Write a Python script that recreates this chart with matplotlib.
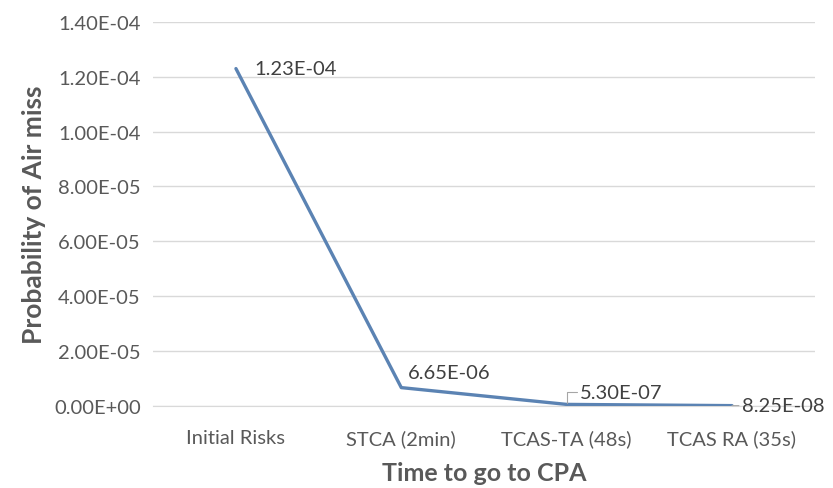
import matplotlib.pyplot as plt

# 데이터
categories = ["Initial Risks", "STCA (2min)", "TCAS-TA (48s)", "TCAS RA (35s)"]
prob = [1.23e-04, 6.65e-06, 5.30e-07, 8.25e-08]
labels = ["1.23E-04", "6.65E-06", "5.30E-07", "8.25E-08"]
yticks = [0, 2e-05, 4e-05, 6e-05, 8e-05, 1e-04, 1.2e-04, 1.4e-04]
ytick_labels = ["0.00E+00", "2.00E-05", "4.00E-05", "6.00E-05",
                "8.00E-05", "1.00E-04", "1.20E-04", "1.40E-04"]

plt.rc("font", family=["Lato", "DejaVu Sans"])
txt = "#595959"
fs = 14.5

fig = plt.figure(figsize=(8.33, 4.89), dpi=100)
ax = fig.add_axes([0.184, 0.168, 0.794, 0.785])

x = list(range(len(categories)))
ax.plot(x, prob, color="#5B83B3", lw=2.4, solid_capstyle="round", zorder=3)

ax.set_xlim(-0.5, len(categories) - 0.5)
ax.set_ylim(0, 1.4e-04)
ax.set_yticks(yticks)
ax.set_yticklabels(ytick_labels)
ax.set_xticks(x)
ax.set_xticklabels(categories)
ax.tick_params(length=0, labelsize=fs, colors=txt)
ax.tick_params(axis="y", pad=9)
ax.tick_params(axis="x", pad=17)
ax.grid(axis="y", color="#D9D9D9", lw=1)
ax.set_axisbelow(True)
for s in ["top", "right", "left"]:
    ax.spines[s].set_visible(False)
ax.spines["bottom"].set_color("#D9D9D9")

ax.set_ylabel("Probability of Air miss", fontsize=19, fontweight="bold", color=txt, labelpad=6)
ax.set_xlabel("Time to go to CPA", fontsize=18, fontweight="bold", color=txt, labelpad=10)

# 데이터 라벨
lc = "#404040"
ax.annotate(labels[0], (x[0], prob[0]), xytext=(13, 0), textcoords="offset points",
            va="center", ha="left", fontsize=fs, color=lc)
ax.annotate(labels[1], (x[1], prob[1]), xytext=(5, 5), textcoords="offset points",
            va="bottom", ha="left", fontsize=fs, color=lc)
ax.annotate(labels[2], (x[2], prob[2]), xytext=(x[2] + 0.08, 5.0e-06),
            va="center", ha="left", fontsize=fs, color=lc,
            arrowprops=dict(arrowstyle="-", color="#A6A6A6", lw=0.8, shrinkA=0, shrinkB=1,
                            connectionstyle="angle,angleA=0,angleB=90,rad=0"))
ax.annotate(labels[3], (x[3], prob[3]), xytext=(7, 0), textcoords="offset points",
            va="center", ha="left", fontsize=fs, color=lc, annotation_clip=False,
            arrowprops=dict(arrowstyle="-", color="#A6A6A6", lw=0.8, shrinkA=0, shrinkB=0))

plt.savefig("out.png", dpi=100)
